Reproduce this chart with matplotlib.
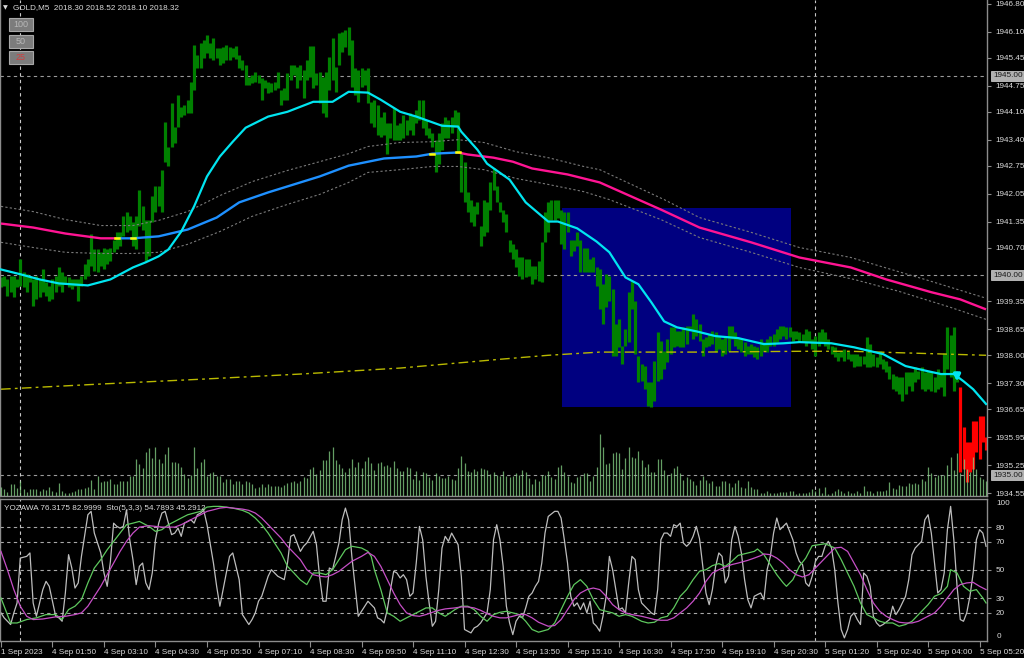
import matplotlib
matplotlib.use('Agg')
import matplotlib.pyplot as plt
import matplotlib.transforms as mtransforms
from matplotlib.patches import Rectangle

plt.rcParams['font.family'] = ['Liberation Sans', 'DejaVu Sans']

# ---- données : barres M5 de GOLD (plus haut / plus bas) ----
highs = [1939.95, 1939.98, 1939.90, 1939.98, 1939.98, 1939.90, 1940.40, 1940.08, 1940.03, 1939.98,
         1939.90, 1939.98, 1939.90, 1940.15, 1939.83, 1939.73, 1939.90, 1939.98, 1940.20, 1940.08,
         1939.98, 1939.95, 1939.90, 1939.90, 1939.90, 1939.98, 1940.28, 1940.40, 1941.03, 1940.65,
         1940.65, 1940.58, 1940.70, 1940.65, 1940.70, 1940.90, 1941.08, 1941.08, 1941.48, 1941.60,
         1941.48, 1941.33, 1941.48, 1942.15, 1941.73, 1941.40, 1941.40, 1941.98, 1942.23, 1942.23,
         1942.65, 1943.85, 1943.23, 1944.33, 1943.73, 1944.53, 1944.23, 1944.28, 1944.40, 1944.85,
         1945.78, 1945.53, 1945.83, 1945.90, 1946.03, 1945.83, 1945.95, 1945.70, 1945.70, 1945.73,
         1945.78, 1945.73, 1945.70, 1945.75, 1945.53, 1945.40, 1945.28, 1944.98, 1945.03, 1945.10,
         1945.03, 1944.95, 1944.90, 1944.85, 1944.83, 1944.85, 1945.10, 1944.65, 1944.70, 1945.08,
         1945.28, 1945.28, 1945.23, 1945.28, 1945.15, 1945.40, 1945.75, 1945.75, 1945.08, 1945.10,
         1944.98, 1945.10, 1945.48, 1945.95, 1945.23, 1946.08, 1946.10, 1946.15, 1946.23, 1945.90,
         1945.20, 1945.15, 1945.20, 1945.15, 1945.20, 1944.35, 1944.40, 1944.28, 1943.98, 1944.10,
         1943.83, 1943.83, 1944.20, 1943.78, 1943.83, 1944.03, 1943.90, 1944.08, 1944.03, 1944.15,
         1944.40, 1944.40, 1943.90, 1943.70, 1943.58, 1943.40, 1943.58, 1943.83, 1943.98, 1943.90,
         1943.98, 1944.15, 1944.10, 1943.08, 1942.83, 1942.10, 1941.90, 1941.73, 1941.83, 1941.23,
         1941.90, 1941.85, 1942.33, 1942.70, 1942.23, 1941.85, 1941.65, 1941.53, 1940.90, 1940.78,
         1940.65, 1940.45, 1940.45, 1940.40, 1940.40, 1940.23, 1940.23, 1940.35, 1940.85, 1941.58,
         1941.85, 1941.90, 1941.90, 1941.90, 1941.65, 1941.58, 1941.58, 1940.90, 1940.90, 1941.10,
         1940.90, 1940.70, 1940.70, 1940.40, 1940.45, 1940.20, 1940.15, 1939.78, 1940.03, 1939.98,
         1939.65, 1938.78, 1938.90, 1938.23, 1938.65, 1939.58, 1939.85, 1939.35, 1937.98, 1937.78,
         1937.73, 1937.33, 1937.33, 1937.85, 1938.58, 1938.35, 1938.10, 1938.40, 1938.70, 1938.70,
         1938.60, 1938.60, 1938.70, 1938.73, 1938.73, 1939.03, 1938.90, 1938.78, 1938.40, 1938.45,
         1938.53, 1938.60, 1938.58, 1938.48, 1938.40, 1938.45, 1938.73, 1938.73, 1938.58, 1938.45,
         1938.40, 1938.33, 1938.23, 1938.28, 1938.23, 1938.20, 1938.40, 1938.33, 1938.40, 1938.48,
         1938.53, 1938.65, 1938.73, 1938.73, 1938.70, 1938.70, 1938.60, 1938.60, 1938.58, 1938.53,
         1938.65, 1938.60, 1938.40, 1938.48, 1938.58, 1938.65, 1938.58, 1938.40, 1938.23, 1938.20,
         1938.08, 1938.10, 1938.15, 1938.10, 1938.03, 1938.03, 1938.03, 1937.98, 1937.98, 1938.45,
         1938.28, 1938.03, 1937.95, 1938.10, 1937.90, 1937.85, 1937.73, 1937.53, 1937.48, 1937.45,
         1937.45, 1937.58, 1937.58, 1937.58, 1937.70, 1937.60, 1937.70, 1937.58, 1937.60, 1937.58,
         1937.45, 1937.65, 1937.53, 1938.05, 1938.70, 1938.50, 1938.70, 1937.53, 1937.20, 1936.20,
         1935.83, 1935.83, 1936.35, 1936.35, 1936.48, 1936.48, 1935.95]

lows = [1939.70, 1939.73, 1939.48, 1939.58, 1939.45, 1939.70, 1939.73, 1939.70, 1939.58, 1939.83,
        1939.23, 1939.40, 1939.45, 1939.58, 1939.48, 1939.35, 1939.40, 1939.58, 1939.73, 1939.58,
        1939.78, 1939.70, 1939.65, 1939.73, 1939.35, 1939.73, 1939.90, 1939.98, 1940.23, 1940.10,
        1940.08, 1940.23, 1940.15, 1940.28, 1940.35, 1940.58, 1940.65, 1940.73, 1940.98, 1941.10,
        1941.15, 1940.73, 1940.65, 1941.23, 1941.15, 1940.35, 1940.48, 1941.33, 1941.58, 1941.73,
        1941.58, 1942.85, 1942.73, 1943.23, 1943.33, 1943.73, 1943.98, 1944.03, 1944.08, 1944.08,
        1944.65, 1945.20, 1945.20, 1945.45, 1945.58, 1945.45, 1945.40, 1945.45, 1945.28, 1945.33,
        1945.40, 1945.40, 1945.48, 1945.43, 1945.20, 1945.15, 1944.78, 1944.78, 1944.83, 1944.85,
        1944.83, 1944.40, 1944.70, 1944.58, 1944.60, 1944.65, 1944.70, 1944.28, 1944.40, 1944.40,
        1944.90, 1945.03, 1944.70, 1944.90, 1944.45, 1944.90, 1944.98, 1944.70, 1944.78, 1944.33,
        1944.08, 1943.98, 1944.65, 1944.90, 1944.60, 1945.28, 1945.60, 1945.73, 1945.53, 1944.73,
        1944.53, 1944.35, 1944.73, 1944.78, 1944.33, 1943.83, 1943.73, 1943.53, 1943.48, 1943.53,
        1943.03, 1943.45, 1943.40, 1943.40, 1943.40, 1943.45, 1943.53, 1943.65, 1943.53, 1943.83,
        1943.90, 1943.70, 1943.53, 1943.45, 1943.23, 1942.58, 1942.78, 1943.15, 1943.45, 1943.45,
        1943.58, 1943.73, 1943.08, 1942.08, 1941.85, 1941.60, 1941.33, 1941.23, 1941.53, 1940.73,
        1940.98, 1941.10, 1941.65, 1942.15, 1941.83, 1941.58, 1941.33, 1941.10, 1940.58, 1940.40,
        1940.20, 1939.98, 1939.90, 1939.95, 1939.98, 1939.78, 1939.90, 1939.85, 1939.83, 1940.83,
        1941.08, 1941.40, 1941.40, 1941.45, 1940.78, 1940.65, 1941.10, 1940.48, 1940.60, 1940.73,
        1940.08, 1940.08, 1940.08, 1940.08, 1940.08, 1939.73, 1939.15, 1938.78, 1939.20, 1939.35,
        1937.98, 1937.98, 1938.20, 1937.78, 1938.23, 1938.33, 1939.15, 1938.03, 1937.33, 1937.35,
        1937.15, 1936.73, 1936.70, 1936.85, 1937.35, 1937.40, 1937.65, 1937.83, 1938.03, 1938.20,
        1938.23, 1938.20, 1938.20, 1938.28, 1938.60, 1938.40, 1938.48, 1938.35, 1937.98, 1938.20,
        1938.23, 1938.28, 1938.08, 1938.15, 1937.98, 1938.03, 1938.10, 1938.40, 1938.23, 1938.15,
        1938.08, 1937.98, 1938.03, 1938.03, 1937.95, 1937.90, 1937.98, 1938.10, 1938.08, 1938.23,
        1938.23, 1938.33, 1938.40, 1938.48, 1938.40, 1938.45, 1938.35, 1938.40, 1938.33, 1938.33,
        1938.23, 1938.33, 1938.15, 1937.98, 1938.23, 1938.33, 1938.23, 1938.15, 1938.03, 1937.95,
        1937.85, 1937.95, 1937.85, 1937.90, 1937.85, 1937.70, 1937.73, 1937.73, 1937.78, 1937.70,
        1937.70, 1937.73, 1937.70, 1937.78, 1937.65, 1937.58, 1937.40, 1937.15, 1937.10, 1937.03,
        1936.85, 1937.03, 1937.23, 1937.10, 1937.33, 1937.40, 1937.15, 1937.10, 1937.15, 1937.10,
        1937.08, 1937.15, 1937.20, 1936.98, 1937.65, 1937.45, 1937.10, 1937.33, 1935.08, 1935.15,
        1934.83, 1935.08, 1935.15, 1935.58, 1935.40, 1935.83, 1935.63]

first_red = 298   # les dernières barres sont rouges

# volumes (ticks)
volumes = [9, 7, 4, 12, 12, 8, 15, 7, 4, 7, 7, 7, 5, 7, 6, 9, 5, 4, 13, 5,
           3, 3, 4, 5, 7, 7, 8, 9, 16, 7, 20, 14, 15, 15, 17, 12, 12, 15, 15, 15,
           20, 20, 37, 32, 28, 44, 48, 38, 49, 37, 33, 42, 49, 34, 34, 33, 29, 22, 18, 21,
           49, 28, 34, 37, 20, 23, 24, 20, 20, 14, 17, 17, 12, 15, 15, 12, 15, 14, 12, 8,
           9, 12, 9, 12, 10, 10, 10, 9, 11, 13, 14, 15, 13, 15, 19, 18, 27, 29, 22, 26,
           36, 36, 45, 49, 36, 32, 28, 24, 28, 37, 29, 34, 28, 35, 39, 33, 26, 33, 34, 30,
           31, 29, 35, 28, 25, 25, 29, 28, 17, 25, 16, 24, 23, 19, 16, 23, 20, 18, 18, 20,
           17, 16, 28, 40, 33, 25, 24, 27, 25, 28, 27, 26, 22, 24, 21,
           20, 25, 20, 19, 20, 23, 21, 26, 24,
           18, 12, 17, 15, 21, 21, 25, 19, 17, 29, 31, 24, 20, 14, 13, 19, 20, 23, 23, 15,
           20, 29, 62, 49, 32, 33, 43, 44, 43, 27, 38, 49, 39, 38, 45, 36, 29, 32, 24, 24,
           37, 37, 26, 21, 23, 28, 30, 23, 16, 19, 17, 15, 11, 16, 20, 16, 13, 15, 10, 10,
           15, 15, 13, 9, 13, 16, 9, 8, 15, 9, 7, 7, 3, 3, 5, 3, 3, 3, 4, 4,
           4, 5, 5, 2, 3, 3, 3, 4, 7, 5, 8, 3, 9, 2, 3, 5, 7, 5, 3, 5,
           3, 3, 5, 3, 10, 5, 5, 3, 5, 5, 5, 6, 14, 8, 7, 11, 10, 10, 13, 12,
           13, 12, 17, 15, 29, 23, 19, 21, 21, 21, 31, 39, 26, 43, 23, 37, 27, 24, 39, 27,
           19, 17, 15]

# moyennes mobiles (index de barre, prix)
ma_fast = [(0, 1940.15), (6, 1940.03), (12, 1939.90), (18, 1939.80), (27, 1939.75), (34, 1939.90),
           (41, 1940.20), (45, 1940.33), (49, 1940.48), (52, 1940.65), (56, 1941.10), (60, 1941.73),
           (64, 1942.48), (68, 1942.98), (72, 1943.35), (76, 1943.70), (83, 1943.98), (89, 1944.10),
           (97, 1944.35), (103, 1944.35), (108, 1944.60), (114, 1944.58), (118, 1944.40), (124, 1944.10),
           (129, 1943.98), (137, 1943.75), (142, 1943.73), (143, 1943.60), (148, 1943.15), (151, 1942.80),
           (158, 1942.40), (163, 1941.83), (170, 1941.35), (173, 1941.35), (179, 1941.18), (185, 1940.85),
           (189, 1940.58), (194, 1939.95), (198, 1939.78), (202, 1939.33), (206, 1938.85), (210, 1938.70),
           (216, 1938.60), (222, 1938.48), (229, 1938.43), (237, 1938.28), (243, 1938.30), (248, 1938.33),
           (258, 1938.30), (265, 1938.20), (274, 1938.03), (281, 1937.73), (288, 1937.60), (292, 1937.53),
           (296, 1937.53), (299, 1937.35), (302, 1937.15), (306, 1936.78)]

ma_slow = [(0, 1941.30), (10, 1941.20), (20, 1941.05), (31, 1940.93), (36, 1940.93), (41, 1940.93),
           (49, 1940.98), (58, 1941.15), (67, 1941.45), (74, 1941.83), (83, 1942.08), (91, 1942.28),
           (99, 1942.48), (108, 1942.75), (119, 1942.93), (129, 1942.98), (134, 1943.05), (142, 1943.08),
           (145, 1943.03), (153, 1942.95), (159, 1942.85), (165, 1942.68), (176, 1942.53), (186, 1942.33),
           (198, 1941.90), (205, 1941.65), (217, 1941.20), (233, 1940.83), (248, 1940.45), (264, 1940.20),
           (275, 1939.90), (289, 1939.58), (298, 1939.40), (306, 1939.15)]
slow_rising = (36, 142)           # portion bleue de la moyenne lente
slow_turns = [36, 41, 134, 142]   # petits points jaunes

band_up = [(0, 1941.73), (10, 1941.60), (20, 1941.40), (31, 1941.25), (41, 1941.25), (49, 1941.38),
           (58, 1941.60), (68, 1942.00), (78, 1942.35), (89, 1942.63), (99, 1942.85), (108, 1943.05),
           (114, 1943.23), (124, 1943.33), (134, 1943.35), (142, 1943.40), (150, 1943.33), (160, 1943.10),
           (170, 1942.95), (181, 1942.73), (186, 1942.65), (206, 1941.90), (217, 1941.45), (233, 1941.08),
           (248, 1940.70), (264, 1940.45), (287, 1939.90), (306, 1939.43)]
band_dn = [(0, 1940.83), (10, 1940.70), (20, 1940.58), (31, 1940.55), (41, 1940.55), (49, 1940.58),
           (58, 1940.78), (68, 1941.10), (78, 1941.48), (89, 1941.78), (99, 1942.03), (108, 1942.33),
           (114, 1942.58), (124, 1942.65), (134, 1942.73), (142, 1942.73), (150, 1942.65), (160, 1942.43),
           (170, 1942.28), (181, 1942.10), (189, 1941.90), (205, 1941.40), (217, 1940.95), (233, 1940.58),
           (248, 1940.20), (265, 1939.90), (279, 1939.60), (295, 1939.20), (306, 1938.90)]

ma_long = [(0, 1937.15), (31, 1937.28), (62, 1937.40), (93, 1937.53), (124, 1937.68), (155, 1937.90),
           (170, 1938.00), (186, 1938.08), (217, 1938.08), (248, 1938.10), (264, 1938.10), (306, 1938.00)]

# rectangle bleu (barres, prix)
box_left, box_right = 174.2, 245.3
box_low, box_high = 1936.70, 1941.68

line_levels = [1945.00, 1940.00, 1935.00]
day_breaks = [6, 253]
signal_bar = 297

price_ticks = [1946.80, 1946.10, 1945.45, 1944.75, 1944.10, 1943.40, 1942.75, 1942.05, 1941.35,
               1940.70, 1939.35, 1938.65, 1938.00, 1937.30, 1936.65, 1935.95, 1935.25, 1934.55]

time_labels = ['1 Sep 2023', '4 Sep 01:50', '4 Sep 03:10', '4 Sep 04:30', '4 Sep 05:50',
               '4 Sep 07:10', '4 Sep 08:30', '4 Sep 09:50', '4 Sep 11:10', '4 Sep 12:30',
               '4 Sep 13:50', '4 Sep 15:10', '4 Sep 16:30', '4 Sep 17:50', '4 Sep 19:10',
               '4 Sep 20:30', '5 Sep 01:20', '5 Sep 02:40', '5 Sep 04:00', '5 Sep 05:20']

# sous-fenêtre : YOZAWA (gris) + stochastique (vert / violet)
yozawa = [(0, 19.8), (1, 16.3), (3, 11.6), (4, 19.8), (5, 26.8), (6, 58.4), (8, 59.6), (9, 62.0), (10, 26.8),
          (11, 17.4), (13, 36.2), (14, 42.0), (15, 38.5), (17, 17.4), (18, 16.3), (19, 13.9), (20, 33.8),
          (21, 60.8), (22, 51.4), (23, 37.3), (24, 40.9), (25, 59.6), (27, 88.9), (28, 91.3), (29, 76.0),
          (31, 62.0), (32, 47.9), (33, 38.5), (34, 56.1), (35, 83.0), (36, 80.7), (37, 79.5), (38, 80.7),
          (39, 92.4), (40, 71.3), (41, 57.3), (42, 39.7), (43, 52.6), (44, 54.9), (45, 40.9), (46, 36.2),
          (47, 47.9), (48, 71.3), (49, 83.0), (50, 90.1), (51, 91.3), (52, 83.0), (53, 74.9), (54, 76.0),
          (55, 79.5), (56, 73.7), (57, 83.0), (58, 84.2), (59, 85.4), (60, 83.0), (61, 88.9), (62, 90.1),
          (63, 92.0), (64, 82.0), (66, 54.9), (67, 38.5), (68, 24.5), (69, 36.2), (70, 47.9), (71, 59.6),
          (72, 62.0), (73, 52.6), (74, 43.2), (75, 18.6), (76, 15.1), (77, 11.6), (78, 15.1), (79, 19.8),
          (80, 28.0), (81, 31.5), (82, 38.5), (83, 45.6), (84, 50.2), (85, 47.9), (86, 45.6), (88, 43.2),
          (89, 54.9), (90, 73.7), (91, 74.9), (92, 69.0), (93, 63.1), (94, 66.7), (95, 69.0), (97, 77.2),
          (98, 67.8), (99, 45.0), (100, 28.0), (101, 28.0), (102, 51.4), (103, 50.2), (104, 59.6), (105, 69.0),
          (106, 85.4), (107, 93.6), (108, 85.4), (109, 59.6), (110, 38.5), (111, 17.4), (113, 24.5), (114, 28.0),
          (115, 25.6), (116, 23.3), (117, 16.3), (118, 15.1), (119, 12.7), (120, 22.1), (121, 36.2), (122, 49.1),
          (123, 47.9), (124, 44.4), (125, 46.7), (126, 43.2), (127, 31.5), (128, 33.8), (129, 54.9), (130, 80.7),
          (131, 71.3), (132, 45.6), (133, 26.8), (134, 10.4), (135, 13.9), (136, 36.2), (137, 65.5), (138, 73.7),
          (139, 70.2), (140, 76.0), (142, 67.8), (143, 45.6), (144, 8.1), (145, 6.9), (146, 5.7), (147, 9.2),
          (148, 10.4), (149, 12.7), (150, 16.3), (151, 19.8), (152, 36.2), (153, 71.3), (154, 81.9), (155, 71.3),
          (156, 52.6), (157, 24.5), (158, 12.7), (159, 4.5), (160, 13.9), (161, 17.4), (162, 16.3), (163, 23.3),
          (164, 31.5), (165, 33.8), (166, 38.5), (167, 42.0), (168, 54.9), (169, 76.0), (170, 87.7), (172, 91.3),
          (173, 91.3), (174, 86.6), (175, 71.3), (176, 54.9), (177, 31.5), (178, 24.5), (179, 26.8), (180, 22.1),
          (181, 26.8), (182, 19.8), (183, 28.0), (184, 12.7), (185, 10.4), (186, 6.9), (187, 17.4), (188, 31.5),
          (189, 59.6), (190, 50.2), (191, 36.2), (192, 22.1), (193, 23.3), (194, 19.8), (195, 40.9), (196, 59.6),
          (197, 57.3), (198, 36.2), (199, 26.8), (200, 24.5), (202, 19.8), (203, 18.6), (204, 36.2), (205, 71.3),
          (206, 76.0), (207, 76.0), (208, 73.7), (209, 81.9), (210, 80.7), (211, 83.0), (212, 69.0), (213, 66.7),
          (214, 69.0), (215, 73.7), (216, 80.7), (217, 72.0), (218, 52.6), (219, 33.8), (220, 25.6), (221, 36.2),
          (222, 52.6), (223, 62.0), (224, 59.6), (225, 40.9), (226, 45.6), (227, 71.3), (228, 80.7), (229, 73.7),
          (230, 62.0), (231, 43.2), (232, 29.1), (233, 23.3), (234, 31.5), (235, 32.7), (236, 33.8), (237, 29.1),
          (238, 50.2), (239, 59.6), (240, 76.0), (241, 86.6), (242, 78.4), (243, 80.7), (244, 83.0), (246, 71.3),
          (247, 62.0), (248, 56.1), (249, 53.8), (250, 40.9), (251, 38.5), (252, 45.6), (253, 56.1), (254, 59.6),
          (255, 59.6), (256, 66.7), (257, 70.2), (258, 65.5), (259, 50.2), (260, 26.8), (261, 8.1), (262, 2.2),
          (263, 8.1), (264, 17.4), (265, 19.8), (266, 15.1), (267, 11.6), (268, 47.9), (269, 45.6), (270, 38.5),
          (271, 17.4), (272, 12.7), (273, 10.4), (274, 11.6), (276, 15.1), (277, 24.5), (278, 18.6), (279, 22.1),
          (280, 26.8), (281, 31.5), (282, 43.2), (283, 60.8), (284, 65.5), (285, 67.8), (286, 70.2), (287, 85.4),
          (288, 88.9), (289, 76.0), (290, 54.9), (291, 33.8), (292, 36.2), (293, 47.9), (294, 78.4), (295, 94.8),
          (296, 71.3), (297, 38.5), (298, 15.1), (299, 13.9), (300, 19.8), (301, 31.5), (302, 47.9), (303, 71.3),
          (304, 78.4), (305, 76.0), (306, 66.7)]

sto_main = [(0, 30.3), (1, 24.5), (3, 12.7), (5, 12.7), (8, 15.1), (11, 16.3), (14, 18.6), (17, 18.6), (19, 15.1),
            (21, 22.1), (23, 24.5), (25, 29.1), (27, 40.9), (29, 51.4), (31, 57.3), (33, 64.3), (35, 70.2),
            (37, 76.0), (39, 81.9), (41, 83.0), (43, 84.2), (46, 80.7), (48, 77.2), (50, 78.4), (52, 81.9),
            (54, 84.2), (56, 86.6), (58, 88.9), (60, 90.1), (62, 91.3), (64, 94.3), (66, 94.8), (68, 94.8),
            (70, 94.3), (72, 93.6), (75, 92.0), (77, 90.1), (79, 86.6), (81, 81.9), (83, 76.0), (85, 69.0),
            (87, 62.0), (89, 52.6), (91, 47.9), (93, 43.0), (95, 39.7), (97, 47.9), (99, 47.9), (101, 46.7),
            (103, 50.2), (105, 57.3), (107, 64.3), (109, 66.7), (112, 65.5), (114, 63.1), (115, 59.6), (116, 50.2),
            (118, 36.2), (120, 19.8), (122, 17.4), (124, 13.9), (126, 16.3), (128, 18.6), (130, 20.9), (132, 23.3),
            (134, 23.3), (136, 19.8), (138, 17.4), (141, 22.1), (143, 24.5), (145, 24.5), (147, 22.1), (149, 17.4),
            (151, 13.9), (153, 18.6), (155, 20.2), (157, 20.9), (159, 19.8), (161, 18.6), (163, 13.9), (165, 8.1),
            (167, 6.2), (170, 8.1), (172, 12.7), (174, 22.1), (176, 31.5), (178, 39.7), (180, 43.2), (182, 38.5),
            (184, 29.1), (186, 22.1), (188, 20.9), (190, 19.8), (192, 17.4), (194, 18.6), (196, 17.4), (199, 13.9),
            (201, 12.7), (203, 13.2), (205, 16.3), (207, 17.4), (209, 23.3), (211, 31.5), (213, 36.2), (215, 43.2),
            (217, 49.1), (219, 50.2), (221, 53.1), (223, 54.5), (225, 52.6), (227, 56.1), (229, 60.3), (232, 62.0),
            (234, 63.1), (235, 64.8), (237, 60.8), (239, 53.8), (241, 46.7), (243, 40.9), (244, 38.5), (246, 43.2),
            (248, 52.6), (250, 58.4), (252, 67.1), (254, 67.8), (256, 68.5), (259, 65.5), (261, 57.3), (263, 47.9),
            (265, 38.5), (267, 26.8), (269, 18.6), (271, 16.3), (273, 13.9), (275, 12.7), (277, 12.7), (279, 10.4),
            (281, 11.6), (283, 13.9), (285, 18.6), (288, 25.6), (290, 31.5), (292, 33.4), (294, 38.5), (295, 50.2),
            (297, 47.9), (299, 38.5), (301, 35.0), (303, 36.2), (305, 30.3), (306, 26.8)]

sto_signal = [(0, 63.1), (2, 50.2), (4, 36.2), (6, 24.5), (8, 17.4), (10, 15.1), (13, 15.5), (17, 17.0), (20, 17.4),
              (23, 18.6), (25, 19.8), (27, 24.5), (29, 31.5), (31, 38.5), (33, 46.7), (35, 54.9), (37, 63.1),
              (39, 70.2), (41, 76.0), (43, 80.2), (46, 81.2), (48, 80.7), (50, 80.2), (52, 80.2), (54, 80.2),
              (56, 81.9), (58, 84.2), (60, 86.6), (62, 88.9), (64, 91.3), (66, 92.4), (68, 93.6), (70, 94.1),
              (72, 93.6), (75, 92.9), (77, 92.0), (79, 90.1), (81, 86.6), (83, 81.9), (85, 77.2), (87, 72.5),
              (89, 66.7), (91, 62.0), (93, 57.3), (95, 50.2), (97, 46.7), (99, 45.6), (101, 45.1), (103, 46.7),
              (105, 49.1), (107, 52.6), (109, 56.1), (112, 59.6), (114, 62.4), (116, 59.6), (118, 52.6), (120, 43.2),
              (122, 33.8), (124, 25.6), (126, 19.8), (128, 17.9), (130, 17.4), (132, 18.6), (134, 20.2), (136, 21.6),
              (138, 22.6), (141, 23.3), (143, 24.0), (145, 24.0), (147, 23.3), (149, 21.6), (151, 19.3), (153, 17.4),
              (155, 16.3), (157, 16.3), (159, 17.4), (161, 18.6), (163, 18.6), (165, 16.3), (167, 13.2), (170, 10.4),
              (172, 10.9), (174, 15.1), (176, 22.1), (178, 29.1), (180, 33.8), (182, 36.2), (184, 37.3), (186, 36.2),
              (188, 31.5), (190, 25.6), (192, 22.1), (194, 19.8), (196, 18.6), (199, 17.4), (201, 16.3), (203, 15.1),
              (205, 14.6), (207, 14.6), (209, 16.3), (211, 19.8), (213, 23.3), (215, 28.0), (217, 33.8), (219, 42.0),
              (221, 47.9), (223, 50.2), (225, 52.1), (227, 53.8), (229, 54.9), (232, 56.8), (234, 58.4), (236, 60.1),
              (237, 61.3), (239, 60.8), (241, 58.4), (243, 54.9), (245, 50.2), (247, 46.7), (249, 45.1), (251, 46.7),
              (253, 51.4), (255, 56.1), (257, 60.8), (259, 65.5), (261, 66.0), (263, 63.1), (265, 54.9), (267, 46.7),
              (269, 36.2), (271, 26.8), (273, 20.9), (275, 17.4), (277, 15.1), (279, 13.2), (281, 12.7), (283, 12.7),
              (285, 13.9), (287, 16.3), (290, 19.8), (292, 24.5), (294, 30.3), (296, 36.2), (298, 39.7), (300, 40.9),
              (302, 41.3), (304, 38.5), (306, 36.2)]

sto_levels = [80, 70, 50, 30, 20]

# ---- figure ----
W, H = 1024, 658
fig = plt.figure(figsize=(W / 100, H / 100), dpi=100, facecolor='black')


def px_box(l, t, r, b):
    return [l / W, 1 - b / H, (r - l) / W, (b - t) / H]


ax = fig.add_axes(px_box(0, 0, 987, 496))
axs = fig.add_axes(px_box(0, 499, 987, 641), sharex=ax)
grey = '#8c8c8c'
txt = '#dadada'
fs = 5.9

for a in (ax, axs):
    a.set_facecolor('black')
    for s in a.spines.values():
        s.set_color(grey)
        s.set_linewidth(1)
ax.spines['top'].set_visible(False)

bars = list(range(len(highs)))
ax.set_xlim(-0.3, 306.3)
ax.set_ylim(1934.475, 1946.90)

# rectangle bleu
ax.add_patch(Rectangle((box_left, box_low), box_right - box_left, box_high - box_low,
                       facecolor='#000080', edgecolor='none', zorder=0.5))

# niveaux horizontaux et séparateurs de jours
for p in line_levels:
    ax.axhline(p, color='#9a9a9a', lw=0.8, ls=(0, (3, 3)), zorder=1)
for d in day_breaks:
    ax.axvline(d, color='#c8c8c8', lw=0.8, ls=(0, (3, 3)), zorder=1)
    axs.axvline(d, color='#c8c8c8', lw=0.8, ls=(0, (3, 3)), zorder=1)

# barres
colors = ['#ff0000' if i >= first_red else '#008000' for i in bars]
ax.vlines(bars, lows, highs, colors=colors, lw=2.3, zorder=2)

# moyennes et enveloppes
xl, yl = zip(*ma_long)
ax.plot(xl, yl, color='#b9b900', lw=1, ls=(0, (7, 3, 2, 3)), zorder=2.5)
for band in (band_up, band_dn):
    xb, yb = zip(*band)
    ax.plot(xb, yb, color='#7a7a7a', lw=0.8, ls=(0, (2, 2)), zorder=2.5)

a0, a1 = slow_rising
seg1 = [pt for pt in ma_slow if pt[0] <= a0]
seg2 = [pt for pt in ma_slow if a0 <= pt[0] <= a1]
seg3 = [pt for pt in ma_slow if pt[0] >= a1]
for seg, c in ((seg1, '#ff1493'), (seg2, '#1e90ff'), (seg3, '#ff1493')):
    xs, ys = zip(*seg)
    ax.plot(xs, ys, color=c, lw=1.7, zorder=3, solid_capstyle='butt')
slow_lookup = dict(ma_slow)
for t in slow_turns:
    yv = slow_lookup[t]
    ax.plot([t - 0.6, t + 0.6], [yv, yv], color='#ffff00', lw=1.8, zorder=3.2)

xf, yf = zip(*ma_fast)
ax.plot(xf, yf, color='#00e5f0', lw=1.6, zorder=3.5)

# flèche de signal
ax.annotate('', xy=(signal_bar, 1937.27), xytext=(signal_bar, 1937.62),
            arrowprops=dict(arrowstyle='-|>', color='#00e5f0', lw=2.4, mutation_scale=9), zorder=4)

# volumes
axv = ax.twinx()
axv.vlines(bars, 0, volumes, colors='#86d486', lw=0.9, alpha=0.75)
axv.set_ylim(0, max(volumes) * 8)
axv.axis('off')

# axe des prix à droite
ax.yaxis.tick_right()
ax.set_yticks(price_ticks)
ax.set_yticklabels([f'{p:.2f}' for p in price_ticks])
ax.tick_params(axis='y', colors=grey, labelcolor=txt, labelsize=fs, length=3, pad=3)
ax.tick_params(axis='x', bottom=False, labelbottom=False)
trans = mtransforms.blended_transform_factory(ax.transAxes, ax.transData)
for p in line_levels:
    ax.text(1.006, p, f'{p:.2f}', transform=trans, ha='left', va='center', fontsize=fs,
            color='#1a1a1a', clip_on=False,
            bbox=dict(boxstyle='square,pad=0.18', fc='#b0b0b0', ec='#d8d8d8', lw=0.5))

# sous-fenêtre
axs.set_ylim(0, 100)
for lv in sto_levels:
    axs.axhline(lv, color='#a8a8a8', lw=0.8, ls=(0, (3, 3)), zorder=1)
xg, yg = zip(*yozawa)
axs.plot(xg, yg, color='#bdbdbd', lw=0.9, zorder=2)
xm, ym = zip(*sto_main)
axs.plot(xm, ym, color='#5ec85e', lw=0.9, zorder=3)
xsg, ysg = zip(*sto_signal)
axs.plot(xsg, ysg, color='#c64fc6', lw=0.9, zorder=3)

axs.yaxis.tick_right()
axs.set_yticks(sto_levels)
axs.set_yticklabels([str(v) for v in sto_levels])
axs.tick_params(axis='y', colors=grey, labelcolor=txt, labelsize=fs, length=3, pad=3)
transs = mtransforms.blended_transform_factory(axs.transAxes, axs.transData)
axs.text(1.01, 96.5, '100', transform=transs, ha='left', va='center', fontsize=fs, color=txt)
axs.text(1.01, 3.5, '0', transform=transs, ha='left', va='center', fontsize=fs, color=txt)

axs.set_xticks(range(0, 16 * len(time_labels), 16))
axs.set_xticklabels(time_labels)
axs.tick_params(axis='x', colors=grey, labelcolor=txt, labelsize=fs, length=4, pad=2)
for lab in axs.get_xticklabels():
    lab.set_ha('left')

axs.text(0.004, 0.955, 'YOZAWA 76.3175 82.9999  Sto(5,3,3) 54.7893 45.2912', transform=axs.transAxes,
         fontsize=fs, color=txt, va='top', ha='left')

# en-tête et boutons
fig.text(3 / W, 1 - 7.5 / H, '▼', fontsize=4.5, color=txt, va='center', family=['DejaVu Sans'])
fig.text(13 / W, 1 - 7.5 / H, 'GOLD,M5  2018.30 2018.52 2018.10 2018.32', fontsize=fs, color=txt, va='center')
for top, label, tc in ((18, '100', '#b8b8b8'), (35, '50', '#b8b8b8'), (51, '25', '#d04040')):
    fig.patches.append(Rectangle((9 / W, 1 - (top + 13) / H), 24 / W, 13 / H, transform=fig.transFigure,
                                 facecolor='#7c7c7c', edgecolor='#a8a8a8', lw=0.8))
    fig.text(21 / W, 1 - (top + 6.5) / H, label, fontsize=6.5, color=tc, ha='center', va='center')

fig.savefig('out.png', dpi=100, facecolor='black')
